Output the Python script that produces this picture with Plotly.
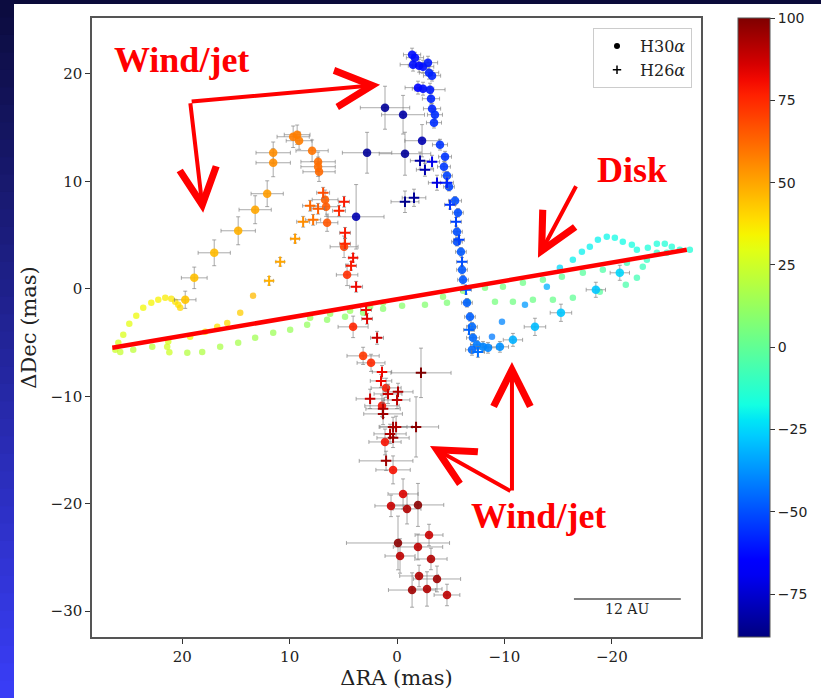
import numpy as np
import plotly.graph_objects as go

# ---------------- data (mas, km/s) ----------------
# H30alpha observations
x30 = [19.72, 18.88, 17.02, 14.79, 13.21, 12.09, 11.53, 11.53, 9.67, 9.30, 9.12, 7.91, 7.35, 7.35, 7.26, 6.70, 6.60, 6.51, 4.93, 4.65,
       4.09, 3.16, 2.42, 1.02, 1.40, 1.12, 0.37, -0.56, 0.56, -0.93, -1.95, -2.98, -0.09, -1.95, -0.28, -3.16, -2.05, -3.72, -1.40, -2.79, -4.65,
       1.12, -0.56, -2.33, -0.74, 2.79, 3.81,
       -1.40, -1.67, -1.49, -2.05, -2.42, -2.88, -2.98, -3.26, -1.95, -2.42, -3.07, -3.16, -3.26, -3.53, -3.44, -4.00, -4.47, -4.37, -4.65, -4.84,
       -5.40, -5.67, -5.58, -5.58, -5.95, -6.05, -6.14, -6.51, -6.79, -6.98, -7.07, -7.44, -8.00, -8.47, -6.98, -9.58,
       -10.79, -12.84, -15.26, -18.51, -20.74]
y30 = [-1.02, 1.02, 3.35, 5.40, 7.36, 8.85, 11.73, 12.66, 14.15, 14.34, 13.78, 12.85, 11.82, 11.36, 10.89, 8.29, 7.64, 6.15, 3.91, 1.30,
       -3.54, -6.24, -6.89, -9.22, -10.89, -14.25, -16.85, -19.09, -20.20, -20.48, -20.11, -22.91, -23.65, -24.02, -24.86, -25.14, -26.72, -27.00, -28.03, -27.93, -28.49,
       16.85, 16.20, 13.78, 12.57, 12.66, 6.70,
       21.79, 21.51, 20.86, 20.76, 20.67, 21.04, 20.11, 19.83, 18.72, 18.62, 18.53, 17.69, 16.76, 16.20, 15.46, 13.41, 12.29, 11.36, 10.52, 9.50,
       8.19, 7.08, 5.31, 4.38, 3.44, 1.77, 0.84, -1.30, -2.61, -3.54, -4.56, -5.21, -5.40, -5.49, -5.68, -5.40,
       -4.75, -3.54, -2.23, -0.09, 1.49]
v30 = [44, 45, 46, 48, 50, 52, 55, 55, 58, 58, 58, 60, 61, 61, 62, 64, 65, 66, 70, 74,
       76, 72, 75, 78, 80, 80, 80, 85, 88, 92, 98, 88, 98, 90, 90, 92, 92, 95, 95, 92, 90,
       -84, -82, -80, -84, -84, -80,
       -62, -62, -62, -63, -62, -60, -58, -58, -65, -62, -60, -58, -58, -56, -56, -55, -55, -54, -52, -52,
       -50, -50, -50, -50, -48, -48, -48, -47, -47, -45, -45, -42, -40, -40, -45, -38,
       -32, -30, -28, -28, -25]
ex30 = [1.0, 1.2, 1.5, 1.6, 1.5, 1.5, 1.6, 1.6, 1.5, 1.2, 1.2, 1.5, 1.6, 1.6, 1.5, 1.2, 1.2, 1.0, 1.3, 1.0,
        1.4, 1.5, 1.3, 1.4, 1.6, 1.5, 1.6, 1.4, 1.5, 1.3, 2.4, 1.3, 4.8, 2.3, 1.4, 1.5, 1.8, 2.2, 2.2, 1.4, 1.2,
        2.3, 2.0, 1.6, 2.4, 2.3, 2.6,
        0.8, 0.8, 1.2, 1.0, 1.0, 0.9, 0.9, 0.8, 1.2, 1.0, 1.4, 0.8, 0.8, 0.7, 0.7, 0.7, 0.6, 0.6, 0.5, 0.5,
        0.6, 0.5, 0.5, 0.5, 0.5, 0.5, 0.5, 0.5, 0.5, 0.5, 0.6, 0.6, 0.8, 0.8, 0.6, 0.8,
        0.9, 1.0, 1.0, 0.9, 0.9]
ey30 = [0.8, 1.0, 1.2, 1.3, 1.3, 1.2, 1.3, 1.0, 1.0, 0.9, 0.8, 1.0, 0.9, 0.9, 0.9, 0.9, 0.9, 0.8, 1.0, 1.0,
        1.0, 0.8, 0.8, 0.9, 1.0, 1.2, 1.3, 1.4, 1.0, 1.4, 2.0, 1.0, 2.5, 1.2, 1.6, 1.0, 1.0, 1.2, 1.6, 1.6, 1.0,
        2.0, 1.8, 1.5, 2.0, 1.9, 3.0,
        0.6, 0.5, 0.6, 0.6, 0.6, 0.6, 0.6, 0.5, 0.6, 0.6, 0.6, 0.5, 0.5, 0.5, 0.5, 0.5, 0.5, 0.5, 0.4, 0.4,
        0.4, 0.4, 0.4, 0.4, 0.4, 0.4, 0.4, 0.4, 0.4, 0.4, 0.4, 0.4, 0.5, 0.5, 0.5, 0.5,
        0.6, 0.8, 0.8, 0.7, 0.7]

# H26alpha observations
x26 = [6.88, 8.09, 7.35, 5.40, 4.93, 8.74, 7.81, 9.49, 4.84, 4.84, 4.09, 4.28, 3.81, 2.88, 2.79, 1.86, 10.88, 11.91,
       1.40, 1.49, -2.23, 0.84, -0.09, 2.51, 0.00, 1.30, 1.30, 0.37, 0.09, -1.77, 0.65, 0.37, 1.02,
       -2.14, -2.60, -3.26, -3.72, -4.65, -0.74, -1.58, -4.93, -5.49, -5.77, -6.05, -6.42, -6.70, -7.53]
y26 = [8.94, 7.73, 7.45, 7.26, 8.10, 6.24, 6.42, 4.66, 5.21, 4.19, 2.89, 2.14, 0.19, -1.96, -2.79, -4.56, 2.51, 0.74,
       -7.73, -8.57, -7.82, -9.78, -9.59, -10.24, -10.34, -11.17, -11.64, -12.85, -12.85, -12.85, -13.50, -13.87, -16.01,
       11.92, 11.08, 11.82, 9.87, 9.87, 8.10, 8.47, 7.82, 6.24, 4.56, 2.51, -0.09, -3.82, -5.87]
v26 = [68, 62, 64, 75, 78, 55, 60, 52, 78, 75, 80, 78, 82, 82, 84, 88, 50, 48,
       82, 82, 100, 88, 92, 88, 90, 92, 95, 95, 92, 98, 92, 95, 95,
       -82, -80, -70, -72, -58, -86, -84, -55, -52, -52, -50, -48, -46, -44]
ex26 = [0.6, 0.7, 0.6, 0.6, 0.5, 0.6, 0.7, 0.4, 0.5, 0.5, 0.4, 0.5, 0.6, 0.5, 0.5, 0.6, 0.4, 0.4,
        0.9, 1.0, 2.8, 1.3, 1.4, 1.3, 1.2, 1.6, 1.8, 1.3, 1.5, 2.1, 1.5, 1.5, 2.5,
        0.9, 0.8, 0.7, 0.8, 0.6, 1.3, 1.1, 0.5, 0.5, 0.5, 0.5, 0.5, 0.5, 0.6]
ey26 = [0.5, 0.5, 0.5, 0.5, 0.5, 0.5, 0.5, 0.4, 0.5, 0.5, 0.4, 0.4, 0.5, 0.5, 0.5, 0.6, 0.4, 0.4,
        0.6, 0.6, 2.3, 0.9, 0.8, 0.9, 0.8, 0.8, 1.0, 0.9, 1.0, 2.8, 0.9, 0.9, 0.9,
        0.8, 0.6, 0.6, 0.7, 0.5, 1.0, 0.8, 0.4, 0.4, 0.4, 0.4, 0.4, 0.4, 0.5]

# model (small dots)
xm = [20.19, 20.37, 20.65, 21.02, 21.58, 22.23, 22.88, 23.63, 24.28, 24.93, 25.49, 25.95, 26.23, 25.77, 24.56, 22.79,
      19.53, 18.14, 16.47, 14.79, 13.21, 11.53, 9.95, 8.37, 6.51, 4.84, 3.16, 1.30, -0.47, -2.60, -4.65, -6.60, -9.12, -10.79,
      -12.65, -14.51, -16.37, -18.88, -21.30, -22.33, -22.88, -23.26, -24.19, -25.12, -26.33, -27.26,
      21.30, 21.40, 21.20, 19.26, 17.86, 16.74, 15.81, 14.60, 13.40,
      8.09, 6.23, 4.37, 2.51, 1.30,
      -4.28, -6.14, -8.19, -9.86, -11.72, -13.58, -15.35, -17.30, -19.16, -21.40,
      -16.37, -17.21, -17.95, -18.70, -19.53, -20.28, -21.02, -21.86, -22.33, -23.35, -24.19, -24.93, -25.58,
      -15.16, -13.95, -11.91, -9.77, -8.84]
ym = [-1.77, -1.49, -1.21, -0.93, -0.84, -1.02, -1.30, -1.77, -2.51, -3.26, -4.28, -5.03, -5.68, -5.87, -5.68, -5.40,
      -5.96, -5.87, -5.40, -5.03, -4.56, -4.10, -3.82, -3.35, -2.89, -2.61, -2.23, -1.86, -1.58, -1.49, -1.30, -1.21, -1.21, -1.21,
      -1.02, -1.02, -0.84, -0.28, 0.37, 1.02, 2.05, 2.70, 3.35, 3.35, 3.63, 3.63,
      -4.90, -5.40, -5.90, -4.47, -4.00, -3.54, -3.17, -2.23, -0.65,
      -2.70, -2.33, -2.05, -1.68, -1.30,
      -0.74, -0.19, 0.09, 0.19, 0.56, 0.84, 1.12, 1.49, 1.77, 2.42,
      2.70, 3.44, 3.91, 4.56, 4.84, 4.75, 4.38, 4.10, 3.63, 3.82, 4.19, 4.19, 3.91,
      1.96, 0.19, -1.49, -3.07, -4.47]
vm = [40, 39, 38, 37, 36, 35, 34, 33, 32, 30, 28, 27, 25, 23, 21, 20,
      19, 18, 17, 16, 15, 14, 13, 12, 11, 10, 10, 9, 9, 8, 7, 6, 5, 4,
      3, 2, 0, -2, -5, -7, -9, -10, -12, -13, -14, -15,
      27, 26, 25, 33, 36, 38, 40, 42, 46,
      14, 13, 13, 12, 12,
      10, 8, 6, 5, 3, 1, 0, -2, -4, -7,
      -20, -20, -20, -20, -19, -18, -18, -17, -17, -16, -16, -15, -15,
      -25, -32, -36, -40, -42]

xticks = [20, 10, 0, -10, -20]
yticks = [-30, -20, -10, 0, 10, 20]
cticks = [-75, -50, -25, 0, 25, 50, 75, 100]

# ---------------- matplotlib "jet" colour scale ----------------
def jet_scale(n=41):
    t = np.linspace(0, 1, n)
    r = np.interp(t, [0, 0.35, 0.66, 0.89, 1], [0, 0, 1, 1, 0.5])
    g = np.interp(t, [0, 0.125, 0.375, 0.64, 0.91, 1], [0, 0, 1, 1, 0, 0])
    b = np.interp(t, [0, 0.11, 0.34, 0.65, 1], [0.5, 1, 1, 0, 0])
    return [[float(ti), f"rgb({int(ri*255)},{int(gi*255)},{int(bi*255)})"] for ti, ri, gi, bi in zip(t, r, g, b)]

SERIF = "DejaVu Serif"
ebar = dict(type="data", color="rgba(125,125,125,0.65)", thickness=1, width=2)

fig = go.Figure()

fig.add_trace(go.Scatter(x=xm, y=ym, mode="markers", showlegend=False, hoverinfo="skip",
                         marker=dict(size=6.5, color=vm, coloraxis="coloraxis", opacity=0.75)))

fig.add_trace(go.Scatter(x=x30, y=y30, mode="markers", showlegend=False,
                         error_x=dict(ebar, array=ex30), error_y=dict(ebar, array=ey30),
                         marker=dict(size=8.5, color=v30, coloraxis="coloraxis", opacity=0.9)))

fig.add_trace(go.Scatter(x=x26, y=y26, mode="markers", showlegend=False,
                         error_x=dict(ebar, array=ex26), error_y=dict(ebar, array=ey26),
                         marker=dict(size=7.5, symbol="cross-thin", color=v26, coloraxis="coloraxis",
                                     line=dict(width=2, color=v26, coloraxis="coloraxis"))))

# legend proxies
fig.add_trace(go.Scatter(x=[None], y=[None], mode="markers", name="H30<i>α</i>",
                         marker=dict(size=6, color="black")))
fig.add_trace(go.Scatter(x=[None], y=[None], mode="markers", name="H26<i>α</i>",
                         marker=dict(size=6, symbol="cross-thin", color="black", line=dict(width=1.5, color="black"))))

# ---------------- layout geometry ----------------
W, H = 821, 698
L, R, T, B = 92, 120, 18, 61
pw, ph = W - L - R, H - T - B

def px_x(p):
    return (p - L) / pw

def px_y(p):
    return (H - B - p) / ph

shapes = []
# slide background: top dark band + left gradient band
shapes.append(dict(type="rect", xref="paper", yref="paper", x0=px_x(-5), x1=px_x(W + 5),
                   y0=px_y(4), y1=px_y(-5), fillcolor="#0b0b3a", line=dict(width=0), layer="below"))
N = 40
c0 = np.array([12, 12, 62])
c1 = np.array([58, 62, 248])
for i in range(N):
    f = (i + 0.5) / N
    c = (c0 + (c1 - c0) * f).astype(int)
    shapes.append(dict(type="rect", xref="paper", yref="paper", x0=px_x(-5), x1=px_x(14),
                       y0=px_y((i + 1) * H / N + 1), y1=px_y(i * H / N),
                       fillcolor=f"rgb({c[0]},{c[1]},{c[2]})", line=dict(width=0), layer="below"))

# disk line
shapes.append(dict(type="line", xref="x", yref="y", x0=26.51, y0=-5.49, x1=-26.98, y1=3.63,
                   line=dict(color="#ff0000", width=4.5)))
# scale bar
shapes.append(dict(type="line", xref="x", yref="y", x0=-16.47, y0=-28.86, x1=-26.42, y1=-28.86,
                   line=dict(color="#555555", width=1.5)))

RED = "#ff0000"
TXT = dict(family="Liberation Serif", size=36, color=RED)
annotations = [
    dict(x=20.09, y=21.3, xref="x", yref="y", text="<b>Wind/jet</b>", showarrow=False, font=TXT),
    dict(x=-21.86, y=11.1, xref="x", yref="y", text="<b>Disk</b>", showarrow=False, font=TXT),
    dict(x=-13.21, y=-21.1, xref="x", yref="y", text="<b>Wind/jet</b>", showarrow=False, font=TXT),
    dict(x=-21.44, y=-29.75, xref="x", yref="y", text="12 AU", showarrow=False,
         font=dict(family=SERIF, size=14, color="#222")),
]
arrows = [
    ((19.26, 17.41), (1.58, 18.99)),
    ((19.26, 17.41), (18.05, 7.08)),
    ((-16.74, 9.68), (-13.12, 2.89)),
    ((-10.70, -18.90), (-10.70, -6.80)),
    ((-10.70, -18.90), (-3.07, -14.62)),
]
for (tx, ty), (hx, hy) in arrows:
    annotations.append(dict(x=hx, y=hy, ax=tx, ay=ty, xref="x", yref="y", axref="x", ayref="y",
                            text="", showarrow=True, arrowhead=5, arrowsize=1.8, arrowwidth=4,
                            arrowcolor=RED, standoff=0))

axis_common = dict(showgrid=False, zeroline=False, showline=True, mirror=True, linecolor="#555555",
                   linewidth=1.5, ticks="outside", ticklen=5, tickwidth=1.2, tickcolor="#333333",
                   tickfont=dict(family=SERIF, size=15, color="#222222"))

fig.update_layout(
    width=W, height=H, margin=dict(l=L, r=R, t=T, b=B, autoexpand=False),
    paper_bgcolor="white", plot_bgcolor="white",
    xaxis=dict(axis_common, range=[28.4, -28.3], tickvals=xticks,
               title=dict(text="ΔRA (mas)", font=dict(family=SERIF, size=21, color="#222"), standoff=6)),
    yaxis=dict(axis_common, range=[-32.4, 25.2], tickvals=yticks,
               title=dict(text="ΔDec (mas)", font=dict(family=SERIF, size=21, color="#222"), standoff=8)),
    coloraxis=dict(colorscale=jet_scale(), cmin=-88, cmax=100,
                   colorbar=dict(x=px_x(738), xanchor="left", xref="paper", y=0.5, yanchor="middle",
                                 len=1.0, lenmode="fraction", thickness=32, xpad=0, ypad=0,
                                 outlinecolor="#555555", outlinewidth=1, ticks="outside", ticklen=5,
                                 tickcolor="#333", tickvals=cticks,
                                 tickfont=dict(family="DejaVu Sans", size=14, color="#222"))),
    legend=dict(x=px_x(692), y=px_y(28), xanchor="right", yanchor="top",
                bgcolor="rgba(255,255,255,0.9)", bordercolor="#cccccc", borderwidth=1,
                font=dict(family=SERIF, size=16, color="#222"), itemwidth=36, tracegroupgap=4),
    shapes=shapes, annotations=annotations,
)

fig.write_html("out.html")
